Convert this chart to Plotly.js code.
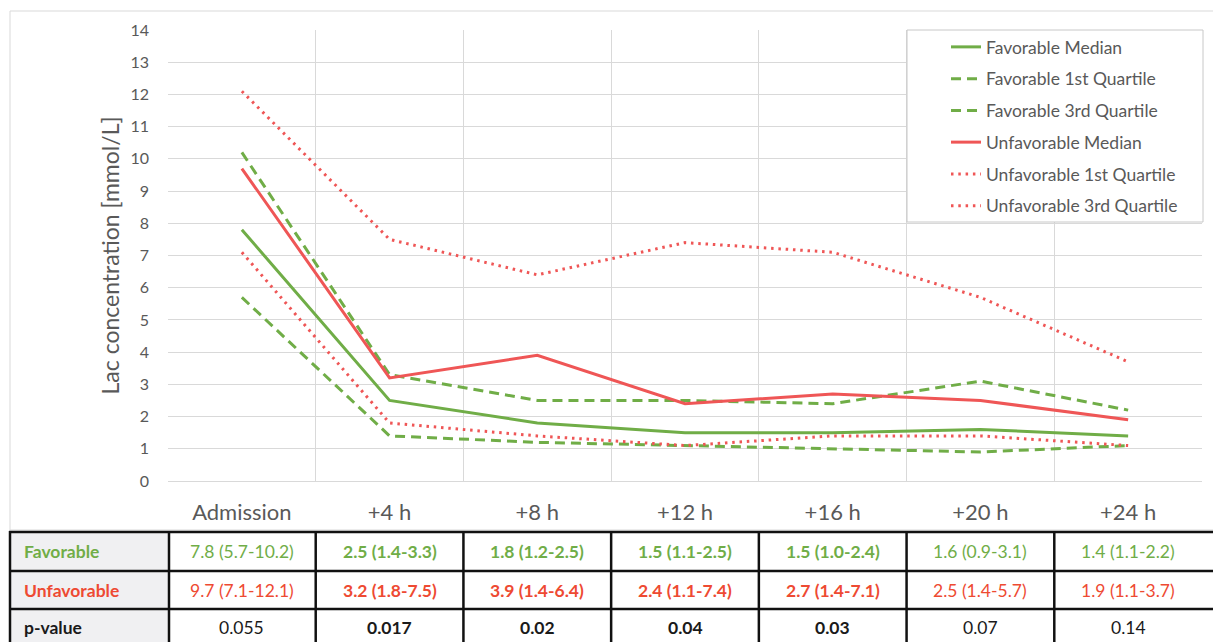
<!DOCTYPE html>
<html>
<head>
<meta charset="utf-8">
<script src="https://cdn.plot.ly/plotly-3.0.1.min.js"></script>
<style>html,body{margin:0;padding:0;background:#fff;}#chart{width:1213px;height:642px;}</style>
</head>
<body>
<div id="chart"></div>
<script>
// ---- data ----
var categories = ['Admission', '+4 h', '+8 h', '+12 h', '+16 h', '+20 h', '+24 h'];
var favMedian = [7.8, 2.5, 1.8, 1.5, 1.5, 1.6, 1.4];
var favQ1     = [5.7, 1.4, 1.2, 1.1, 1.0, 0.9, 1.1];
var favQ3     = [10.2, 3.3, 2.5, 2.5, 2.4, 3.1, 2.2];
var unfMedian = [9.7, 3.2, 3.9, 2.4, 2.7, 2.5, 1.9];
var unfQ1     = [7.1, 1.8, 1.4, 1.1, 1.4, 1.4, 1.1];
var unfQ3     = [12.1, 7.5, 6.4, 7.4, 7.1, 5.7, 3.7];
var pValues   = ['0.055', '0.017', '0.02', '0.04', '0.03', '0.07', '0.14'];
var rowLabels = ['Favorable', 'Unfavorable', 'p-value'];

// ---- styles ----
var GREEN = '#70ad47';
var RED = '#ef5656';
var RED_TXT = '#ee4a32';
var GRAY = '#595959';
var GRID = '#d9d9d9';
var FONT = 'Lato, "Open Sans", sans-serif';

var W = 1213, H = 642;
var L = 168, R = 11, T = 30, B = 161;
var PW = W - L - R, PH = H - T - B;
function px(x) { return (x - L) / PW; }
function py(y) { return (H - B - y) / PH; }

var dashFav = '10px,6px';
var dotUnf = '2.5px,4.8px';

function tr(name, y, color, dash) {
  return {
    type: 'scatter', mode: 'lines', name: name, x: categories, y: y,
    legendgroup: name,
    line: {color: color, width: 3, dash: dash},
    hoverinfo: 'x+y+name'
  };
}
var traces = [
  tr('Favorable Median', favMedian, GREEN, 'solid'),
  tr('Favorable 1st Quartile', favQ1, GREEN, dashFav),
  tr('Favorable 3rd Quartile', favQ3, GREEN, dashFav),
  tr('Unfavorable Median', unfMedian, RED, 'solid'),
  tr('Unfavorable 1st Quartile', unfQ1, RED, dotUnf),
  tr('Unfavorable 3rd Quartile', unfQ3, RED, dotUnf)
];

// ---- table below the chart ----
var rowY = [551.5, 590, 627];
var hLines = [532, 571, 609];
var shapes = [];
var annotations = [];

// chart frame
shapes.push({type: 'rect', xref: 'paper', yref: 'paper', x0: px(10), x1: px(1216), y0: py(530), y1: py(11),
  line: {color: GRID, width: 1}, fillcolor: 'rgba(0,0,0,0)', layer: 'below'});
// legend frame
shapes.push({type: 'rect', xref: 'paper', yref: 'paper', x0: px(907), x1: px(1203), y0: py(222), y1: py(30),
  line: {color: '#c8c8c8', width: 1}, fillcolor: '#fff', layer: 'above'});
// first column fill
shapes.push({type: 'rect', xref: 'paper', yref: 'paper', x0: px(10), x1: px(169), y0: py(643), y1: py(532),
  line: {width: 0}, fillcolor: '#f0f0f2', layer: 'below'});
hLines.forEach(function (y) {
  shapes.push({type: 'line', xref: 'paper', yref: 'paper', x0: px(9), x1: px(1214), y0: py(y), y1: py(y),
    line: {color: '#111', width: 2.5}});
});
[10, 169].forEach(function (x) {
  shapes.push({type: 'line', xref: 'paper', yref: 'paper', x0: px(x), x1: px(x), y0: py(531), y1: py(645),
    line: {color: '#111', width: 2.5}});
});
for (var i = 0; i < categories.length - 1; i++) {
  shapes.push({type: 'line', xref: 'x', yref: 'paper', x0: i + 0.5, x1: i + 0.5, y0: py(531), y1: py(645),
    line: {color: '#111', width: 2.5}});
}

function fmt(m, a, b) { return m.toFixed(1) + ' (' + a.toFixed(1) + '-' + b.toFixed(1) + ')'; }
function bold(s, on) { return on ? '<b>' + s + '</b>' : s; }

var rowColors = [GREEN, RED_TXT, '#1a1a1a'];
rowLabels.forEach(function (lab, r) {
  annotations.push({xref: 'paper', yref: 'paper', x: px(22), y: py(rowY[r]), xanchor: 'left', yanchor: 'middle',
    text: '<b>' + lab + '</b>', showarrow: false, font: {family: FONT, size: 17.5, color: rowColors[r]}});
});
categories.forEach(function (c, i) {
  var sig = parseFloat(pValues[i]) < 0.05;
  var cells = [
    fmt(favMedian[i], favQ1[i], favQ3[i]),
    fmt(unfMedian[i], unfQ1[i], unfQ3[i]),
    pValues[i]
  ];
  cells.forEach(function (txt, r) {
    annotations.push({xref: 'x', yref: 'paper', x: c, y: py(rowY[r]), xanchor: 'center', yanchor: 'middle',
      text: bold(txt, sig), showarrow: false, font: {family: FONT, size: 17.5, color: rowColors[r]}});
  });
});

var layout = {
  width: W, height: H,
  margin: {l: L, r: R, t: T, b: B, pad: 0},
  paper_bgcolor: '#fff', plot_bgcolor: '#fff',
  font: {family: FONT, color: GRAY},
  showlegend: true,
  legend: {
    x: px(946), xanchor: 'left', y: py(29), yanchor: 'top',
    borderwidth: 0, bgcolor: 'rgba(0,0,0,0)',
    font: {family: FONT, size: 17.5, color: GRAY},
    tracegroupgap: 6, traceorder: 'grouped'
  },
  xaxis: {
    type: 'category', range: [-0.5, 6.5], tickson: 'boundaries',
    showgrid: true, gridcolor: GRID, gridwidth: 1.3, showline: false, zeroline: false, ticks: '',
    tickfont: {family: FONT, size: 22, color: GRAY}, ticklabelstandoff: 16,
    fixedrange: true
  },
  yaxis: {
    range: [0, 14], dtick: 1, tick0: 0,
    showgrid: true, gridcolor: GRID, gridwidth: 1.3, zeroline: true, zerolinecolor: GRID, zerolinewidth: 1.3,
    showline: false, ticks: '',
    tickfont: {family: FONT, size: 16, color: GRAY}, ticklabelstandoff: 18,
    title: {text: 'Lac concentration [mmol/L]', font: {family: FONT, size: 23, color: GRAY}, standoff: 4},
    fixedrange: true
  },
  shapes: shapes,
  annotations: annotations
};

Plotly.newPlot('chart', traces, layout, {displayModeBar: false, staticPlot: false});
</script>
</body>
</html>
